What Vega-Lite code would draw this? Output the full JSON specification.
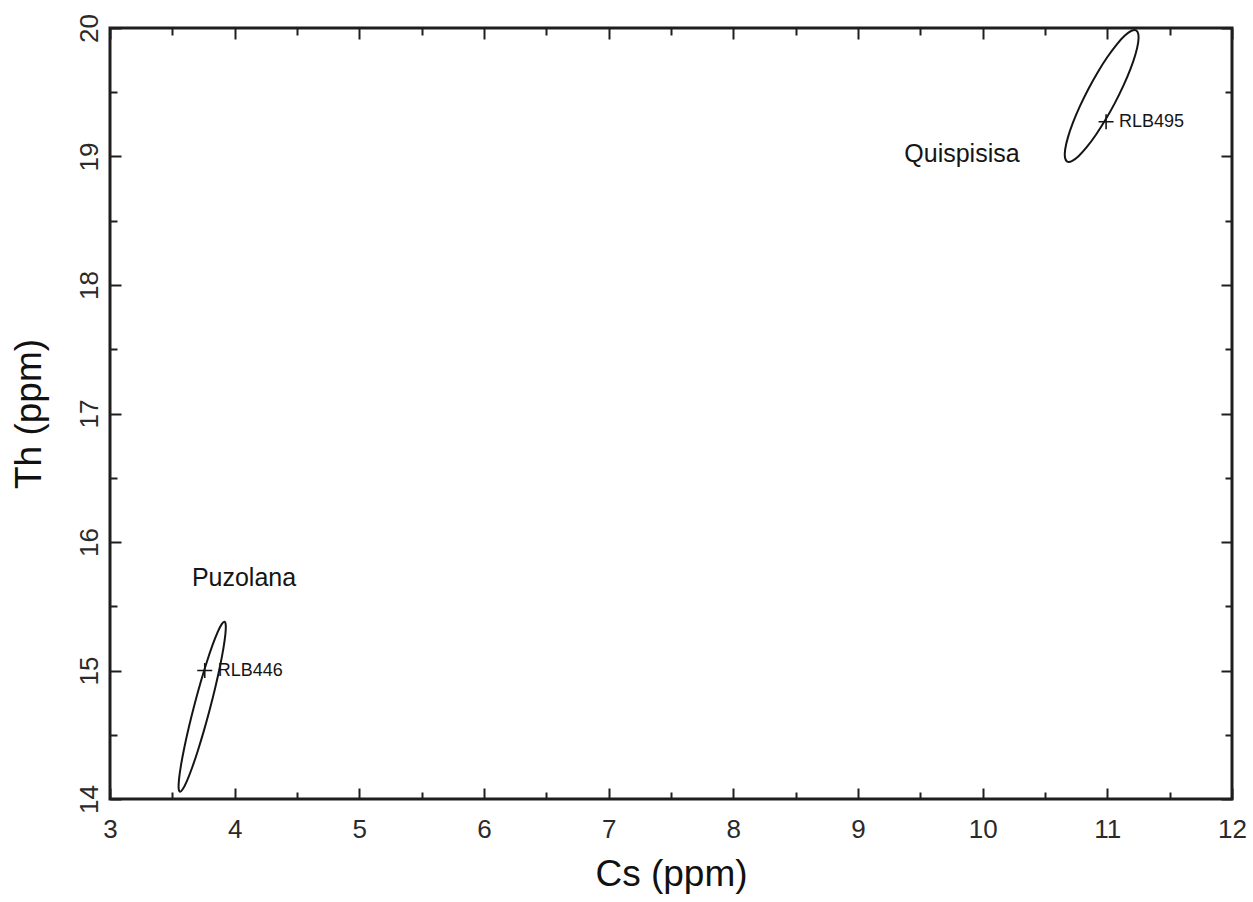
{
  "$schema": "https://vega.github.io/schema/vega-lite/v6.json",
  "width": 1122,
  "height": 771,
  "autosize": "none",
  "padding": {"left": 110, "top": 28, "right": 21, "bottom": 103},
  "background": "white",
  "config": {
    "view": {"stroke": "#1e1e1e", "strokeWidth": 3},
    "font": "Liberation Sans",
    "axis": {"grid": false, "domain": false, "tickColor": "#1e1e1e", "tickWidth": 2}
  },
  "datasets": {
    "ellipses": [
      {"grp": "Puzolana", "ord": 0, "cs": 3.9185, "th": 15.3796},
      {"grp": "Puzolana", "ord": 1, "cs": 3.8963, "th": 15.3612},
      {"grp": "Puzolana", "ord": 2, "cs": 3.8634, "th": 15.2989},
      {"grp": "Puzolana", "ord": 3, "cs": 3.8222, "th": 15.1971},
      {"grp": "Puzolana", "ord": 4, "cs": 3.7753, "th": 15.0627},
      {"grp": "Puzolana", "ord": 5, "cs": 3.7259, "th": 14.9047},
      {"grp": "Puzolana", "ord": 6, "cs": 3.6775, "th": 14.7341},
      {"grp": "Puzolana", "ord": 7, "cs": 3.6333, "th": 14.5625},
      {"grp": "Puzolana", "ord": 8, "cs": 3.5963, "th": 14.4013},
      {"grp": "Puzolana", "ord": 9, "cs": 3.5692, "th": 14.2619},
      {"grp": "Puzolana", "ord": 10, "cs": 3.5536, "th": 14.1535},
      {"grp": "Puzolana", "ord": 11, "cs": 3.5507, "th": 14.0836},
      {"grp": "Puzolana", "ord": 12, "cs": 3.5607, "th": 14.0570},
      {"grp": "Puzolana", "ord": 13, "cs": 3.5829, "th": 14.0754},
      {"grp": "Puzolana", "ord": 14, "cs": 3.6158, "th": 14.1377},
      {"grp": "Puzolana", "ord": 15, "cs": 3.6570, "th": 14.2395},
      {"grp": "Puzolana", "ord": 16, "cs": 3.7039, "th": 14.3739},
      {"grp": "Puzolana", "ord": 17, "cs": 3.7533, "th": 14.5319},
      {"grp": "Puzolana", "ord": 18, "cs": 3.8017, "th": 14.7025},
      {"grp": "Puzolana", "ord": 19, "cs": 3.8459, "th": 14.8741},
      {"grp": "Puzolana", "ord": 20, "cs": 3.8829, "th": 15.0353},
      {"grp": "Puzolana", "ord": 21, "cs": 3.9100, "th": 15.1747},
      {"grp": "Puzolana", "ord": 22, "cs": 3.9256, "th": 15.2831},
      {"grp": "Puzolana", "ord": 23, "cs": 3.9285, "th": 15.3530},
      {"grp": "Quispisisa", "ord": 0, "cs": 11.2309, "th": 19.9822},
      {"grp": "Quispisisa", "ord": 1, "cs": 11.1939, "th": 19.9788},
      {"grp": "Quispisisa", "ord": 2, "cs": 11.1406, "th": 19.9409},
      {"grp": "Quispisisa", "ord": 3, "cs": 11.0747, "th": 19.8710},
      {"grp": "Quispisisa", "ord": 4, "cs": 11.0005, "th": 19.7739},
      {"grp": "Quispisisa", "ord": 5, "cs": 10.9232, "th": 19.6561},
      {"grp": "Quispisisa", "ord": 6, "cs": 10.8481, "th": 19.5259},
      {"grp": "Quispisisa", "ord": 7, "cs": 10.7802, "th": 19.3919},
      {"grp": "Quispisisa", "ord": 8, "cs": 10.7241, "th": 19.2633},
      {"grp": "Quispisisa", "ord": 9, "cs": 10.6839, "th": 19.1490},
      {"grp": "Quispisisa", "ord": 10, "cs": 10.6620, "th": 19.0565},
      {"grp": "Quispisisa", "ord": 11, "cs": 10.6601, "th": 18.9924},
      {"grp": "Quispisisa", "ord": 12, "cs": 10.6783, "th": 18.9610},
      {"grp": "Quispisisa", "ord": 13, "cs": 10.7153, "th": 18.9644},
      {"grp": "Quispisisa", "ord": 14, "cs": 10.7686, "th": 19.0023},
      {"grp": "Quispisisa", "ord": 15, "cs": 10.8345, "th": 19.0722},
      {"grp": "Quispisisa", "ord": 16, "cs": 10.9087, "th": 19.1693},
      {"grp": "Quispisisa", "ord": 17, "cs": 10.9860, "th": 19.2871},
      {"grp": "Quispisisa", "ord": 18, "cs": 11.0611, "th": 19.4173},
      {"grp": "Quispisisa", "ord": 19, "cs": 11.1290, "th": 19.5513},
      {"grp": "Quispisisa", "ord": 20, "cs": 11.1851, "th": 19.6799},
      {"grp": "Quispisisa", "ord": 21, "cs": 11.2253, "th": 19.7942},
      {"grp": "Quispisisa", "ord": 22, "cs": 11.2472, "th": 19.8867},
      {"grp": "Quispisisa", "ord": 23, "cs": 11.2491, "th": 19.9508}
    ],
    "samples": [
      {"name": "RLB446", "cs": 3.76, "th": 15.0},
      {"name": "RLB495", "cs": 10.99, "th": 19.27}
    ],
    "groups": [
      {"name": "Puzolana", "cs": 4.075, "th": 15.72},
      {"name": "Quispisisa", "cs": 9.834, "th": 19.02}
    ]
  },
  "layer": [
    {
      "data": {"name": "ellipses"},
      "mark": {"type": "line", "interpolate": "cardinal-closed", "stroke": "#151515", "strokeWidth": 2},
      "encoding": {
        "x": {
          "field": "cs", "type": "quantitative",
          "scale": {"domain": [3, 12], "nice": false, "zero": false},
          "axis": {
            "orient": "bottom", "values": [3, 4, 5, 6, 7, 8, 9, 10, 11, 12],
            "tickSize": -11, "labelPadding": 28, "labelFontSize": 26, "labelColor": "#2a2a2a",
            "labelFlush": false, "labelOverlap": false,
            "title": "Cs (ppm)", "titleFontSize": 37, "titleFontWeight": "normal", "titleColor": "#111", "titlePadding": 14
          }
        },
        "y": {
          "field": "th", "type": "quantitative",
          "scale": {"domain": [14, 20], "nice": false, "zero": false},
          "axis": {
            "orient": "left", "values": [14, 15, 16, 17, 18, 19, 20],
            "tickSize": -11, "labelPadding": 24, "labelFontSize": 26, "labelColor": "#2a2a2a",
            "labelAngle": -90, "labelAlign": "center", "labelBaseline": "alphabetic",
            "labelFlush": false, "labelOverlap": false,
            "title": "Th (ppm)", "titleFontSize": 37, "titleFontWeight": "normal", "titleColor": "#111", "titlePadding": 28
          }
        },
        "detail": {"field": "grp"},
        "order": {"field": "ord", "type": "quantitative"}
      }
    },
    {
      "data": {"name": "samples"},
      "mark": {"type": "point", "shape": "M-1,0L1,0M0,-1L0,1", "size": 225, "filled": false, "stroke": "#151515", "strokeWidth": 1.6, "opacity": 1},
      "encoding": {
        "x": {
          "field": "cs", "type": "quantitative",
          "scale": {"domain": [3, 12], "nice": false, "zero": false},
          "axis": {"orient": "top", "values": [3, 4, 5, 6, 7, 8, 9, 10, 11, 12], "tickSize": -11, "labels": false, "title": null}
        },
        "y": {
          "field": "th", "type": "quantitative",
          "scale": {"domain": [14, 20], "nice": false, "zero": false},
          "axis": {"orient": "right", "values": [14, 15, 16, 17, 18, 19, 20], "tickSize": -11, "labels": false, "title": null}
        }
      }
    },
    {
      "data": {"name": "samples"},
      "mark": {"type": "text", "align": "left", "baseline": "middle", "dx": 13, "fontSize": 18, "color": "#151515"},
      "encoding": {
        "x": {
          "field": "cs", "type": "quantitative",
          "scale": {"domain": [3, 12], "nice": false, "zero": false},
          "axis": {"orient": "bottom", "values": [3.5, 4.5, 5.5, 6.5, 7.5, 8.5, 9.5, 10.5, 11.5], "tickSize": -7, "labels": false, "title": null}
        },
        "y": {
          "field": "th", "type": "quantitative",
          "scale": {"domain": [14, 20], "nice": false, "zero": false},
          "axis": {"orient": "left", "values": [14.5, 15.5, 16.5, 17.5, 18.5, 19.5], "tickSize": -7, "labels": false, "title": null}
        },
        "text": {"field": "name"}
      }
    },
    {
      "data": {"name": "groups"},
      "mark": {"type": "text", "align": "center", "baseline": "middle", "fontSize": 25, "color": "#151515"},
      "encoding": {
        "x": {
          "field": "cs", "type": "quantitative",
          "scale": {"domain": [3, 12], "nice": false, "zero": false},
          "axis": {"orient": "top", "values": [3.5, 4.5, 5.5, 6.5, 7.5, 8.5, 9.5, 10.5, 11.5], "tickSize": -7, "labels": false, "title": null}
        },
        "y": {
          "field": "th", "type": "quantitative",
          "scale": {"domain": [14, 20], "nice": false, "zero": false},
          "axis": {"orient": "right", "values": [14.5, 15.5, 16.5, 17.5, 18.5, 19.5], "tickSize": -7, "labels": false, "title": null}
        },
        "text": {"field": "name"}
      }
    }
  ],
  "resolve": {"axis": {"x": "independent", "y": "independent"}}
}
